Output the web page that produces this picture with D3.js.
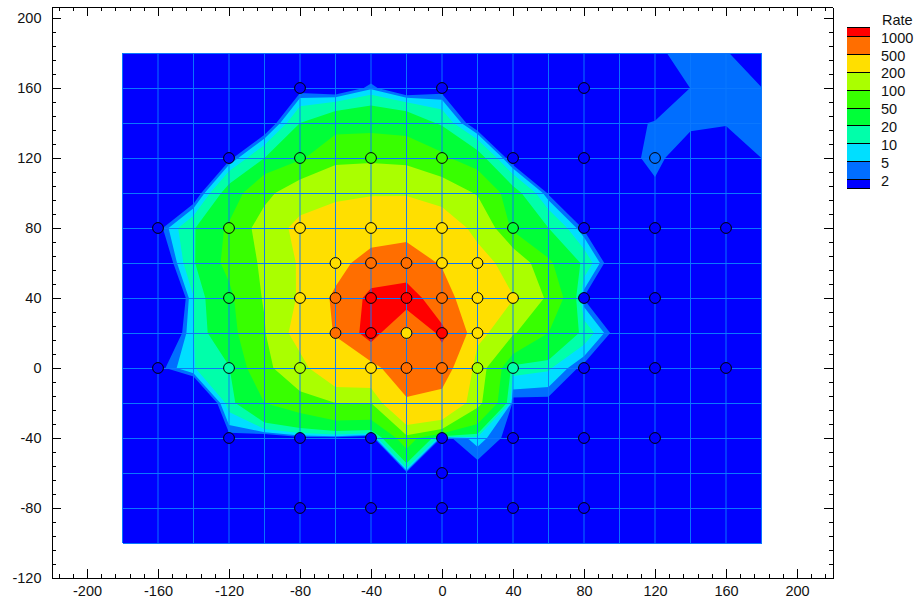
<!DOCTYPE html>
<html>
<head>
<meta charset="utf-8">
<script src="https://cdn.jsdelivr.net/npm/d3@7/dist/d3.min.js"></script>
<style>
html,body{margin:0;padding:0;background:#fff;}
svg{display:block;}
text{font-family:"Liberation Sans",Arial,sans-serif;font-size:14.5px;fill:#111;}
</style>
</head>
<body>
<svg id="chart" width="919" height="603"></svg>
<script>
// Surface sampled every 20 units: rows from y=180 down to y=-100, columns x=-180..180
const xs = d3.range(-180, 181, 20);
const ys = d3.range(180, -101, -20);
const rows = [
/*180*/[0,0,0,0,0,0,0,-10,0,0,0,0,0,0,0,1.5,3,2.2,0],
/*160*/[0,0,0,0,0,-1,-5,3.8,-6,-1,0,0,0,0,0,-5,2.1,3,2.05],
/*140*/[0,0,0,0,-7,20,33,36,33,17,-5,0,0,0,0,2.5,3,3,3],
/*120*/[0,0,0,-0.3,20,44,85,85,79,57,27,-4,0,0,0,3.3,-1.25,-8.6,2.05],
/*100*/[0,0,-5,27,85,135,160,190,180,136,95,26,1,0,0,0.9,0,0,0],
/* 80*/[0,-0.5,18,55,126,236,315,300,420,296,160,40,20,1,0,0,0,0,0],
/* 60*/[0,-10,18,60,110,212,380,653,620,480,255,145,55,16,-8.5,0,0,0,0],
/* 40*/[0,-25,9.5,41,105,212,559,1134,1300,620,300,205,85,1.5,0,0,0,0,0],
/* 20*/[0,-15,10,35,95,250,520,1236,390,1130,242,105,50,15,-2.6,0,0,0,0],
/*  0*/[0,0,9.5,19,80,160,320,333,894,667,130,13,11,0,0,0,0,0,0],
/*-20*/[0,0,-21,13.5,50,70,100,100,419,385,115,0,0,0,0,0,0,0,0],
/*-40*/[0,0,0,0,-4,0,0,-4,72,0,7,-0.5,0,0,0,0,0,0,0],
/*-60*/[0,0,0,0,0,0,0,0,0,0,-1,0,0,0,0,0,0,0,0],
/*-80*/[0,0,0,0,0,0,0,0,0,0,0,0,0,0,0,0,0,0,0],
/*-100*/[0,0,0,0,0,0,0,0,0,0,0,0,0,0,0,0,0,0,0]
];
const levels = [2,5,10,20,50,100,200,500,1000];
const bandColors = ["#0000ff","#006eff","#00dfff","#00ffaa","#00ff38","#38ff00","#aaff00","#ffdf00","#ff6e00","#ff0000"];
const legendTitle = "Rate";
const pointX = [-80,0,80, -120,-80,-40,0,40,80,120, -160,-120,-80,-40,0,40,80,120,160,
  -60,-40,-20,0,20, -120,-80,-60,-40,-20,0,20,40,80,120, -60,-40,-20,0,20,
  -160,-120,-80,-40,-20,0,20,40,80,120,160, -120,-80,-40,0,40,80,120, 0, -80,-40,0,40,80];
const pointY = [160,160,160, 120,120,120,120,120,120,120, 80,80,80,80,80,80,80,80,80,
  60,60,60,60,60, 40,40,40,40,40,40,40,40,40,40, 20,20,20,20,20,
  0,0,0,0,0,0,0,0,0,0,0, -40,-40,-40,-40,-40,-40,-40, -60, -80,-80,-80,-80,-80];
const xMajor = d3.range(-200, 201, 40);
const yMajor = d3.range(-120, 201, 40);
const xMinor = d3.range(-216, 217, 8);
const yMinor = d3.range(-112, 201, 8);

const svg = d3.select("#chart");
const xS = d3.scaleLinear().domain([-220, 220]).range([51.5, 832.5]);
const yS = d3.scaleLinear().domain([-120, 200]).range([578, 18]);
const colorOf = d3.scaleThreshold().domain(levels).range(bandColors);

// Contour the negated surface: saddles then join the high corners, as in the reference.
const ncol = xs.length, nrow = ys.length;
const negated = rows.flat().map(v => -v);
const toPixels = d3.geoTransform({
  point(cx, cy) {
    this.stream.point(xS(xs[0] + (cx - 0.5) * 20), yS(ys[0] - (cy - 0.5) * 20));
  }
});
const path = d3.geoPath(toPixels);

const x0 = xS(d3.min(xs)), x1 = xS(d3.max(xs)), y0 = yS(d3.max(ys)), y1 = yS(d3.min(ys));
svg.append("clipPath").attr("id", "plot").append("rect")
  .attr("x", x0).attr("y", y0).attr("width", x1 - x0).attr("height", y1 - y0);

const plot = svg.append("g").attr("clip-path", "url(#plot)");
plot.append("rect").attr("x", x0).attr("y", y0).attr("width", x1 - x0).attr("height", y1 - y0)
  .attr("fill", bandColors[bandColors.length - 1]);
const descending = levels.slice().reverse().map(t => -t);
plot.selectAll("path.band")
  .data(d3.contours().size([ncol, nrow]).thresholds(descending)(negated))
  .join("path").attr("class", "band")
  .attr("d", path)
  .attr("fill", d => bandColors[levels.indexOf(-d.value)]);

// Grid
const gridColor = "#0a78ff";
svg.append("g").selectAll("line").data(xs).join("line")
  .attr("x1", d => xS(d)).attr("x2", d => xS(d)).attr("y1", y0).attr("y2", y1)
  .attr("stroke", gridColor).attr("stroke-width", 1).attr("stroke-opacity", 0.95);
svg.append("g").selectAll("line").data(ys).join("line")
  .attr("x1", x0).attr("x2", x1).attr("y1", d => yS(d)).attr("y2", d => yS(d))
  .attr("stroke", gridColor).attr("stroke-width", 1).attr("shape-rendering", "crispEdges");

// Points
const valueAt = (x, y) => rows[ys.indexOf(y)][xs.indexOf(x)];
svg.append("g").selectAll("circle").data(pointX.map((x, i) => [x, pointY[i]])).join("circle")
  .attr("cx", d => xS(d[0])).attr("cy", d => yS(d[1])).attr("r", 5.4)
  .attr("fill", d => colorOf(valueAt(d[0], d[1])))
  .attr("stroke", "#000").attr("stroke-width", 1);

// Axes (ticks point inward, frame on all four sides)
const frameTopY = 7, frameBottomY = 578, frameLeftX = xS(-220), frameRightX = xS(220);
const yAxisScale = d3.scaleLinear().domain([-120, yS.invert(frameTopY)]).range([frameBottomY, frameTopY]);
function frameAxis(maker, scale, translate, values, size, labelled, padding) {
  const ax = maker(scale).tickValues(values).tickSizeInner(-size).tickSizeOuter(0).tickPadding(padding);
  ax.tickFormat(labelled ? (d => String(d)) : "");
  const g = svg.append("g").attr("transform", translate).call(ax);
  g.selectAll("path.domain,line").attr("stroke", "#000").attr("stroke-width", 1).attr("shape-rendering", "crispEdges");
  g.attr("font-family", null).attr("font-size", null);
  g.selectAll("text").attr("fill", "#111");
  return g;
}
const hb = "translate(0," + frameBottomY + ")", ht = "translate(0," + frameTopY + ")";
const vl = "translate(" + frameLeftX + ",0)", vr = "translate(" + frameRightX + ",0)";
frameAxis(d3.axisBottom, xS, hb, xMinor, 4, false, 0);
frameAxis(d3.axisBottom, xS, hb, xMajor, 9, true, 8);
frameAxis(d3.axisTop, xS, ht, xMinor, 4, false, 0);
frameAxis(d3.axisTop, xS, ht, xMajor, 9, false, 0);
frameAxis(d3.axisLeft, yAxisScale, vl, yMinor, 4, false, 0);
frameAxis(d3.axisLeft, yAxisScale, vl, yMajor, 9, true, 10);
frameAxis(d3.axisRight, yAxisScale, vr, yMinor, 4, false, 0);
frameAxis(d3.axisRight, yAxisScale, vr, yMajor, 9, false, 0);

// Legend
const legY = d3.scaleLinear().domain([0, levels.length - 1]).range([179.5, 36.8]);
const legX = 847, legW = 23, capH = 9;
const legend = svg.append("g");
legend.selectAll("rect").data(bandColors).join("rect")
  .attr("x", legX).attr("width", legW)
  .attr("y", (d, i) => i === levels.length ? legY(levels.length - 1) - capH : legY(i))
  .attr("height", (d, i) => (i === 0 || i === levels.length) ? capH : legY(i - 1) - legY(i))
  .attr("fill", d => d);
const legEdges = [legY(0) + capH].concat(levels.map((d, i) => legY(i)), [legY(levels.length - 1) - capH]);
legend.selectAll("line.edge").data(legEdges).join("line").attr("class", "edge")
  .attr("x1", legX).attr("x2", legX + legW).attr("y1", d => d).attr("y2", d => d)
  .attr("stroke", "#000").attr("stroke-width", 1).attr("shape-rendering", "crispEdges");
legend.selectAll("text.lab").data(levels).join("text").attr("class", "lab")
  .attr("x", 881).attr("y", (d, i) => legY(i) + 6).text(d => d);
legend.append("text").attr("x", 882).attr("y", 25).text(legendTitle);
</script>
</body>
</html>
